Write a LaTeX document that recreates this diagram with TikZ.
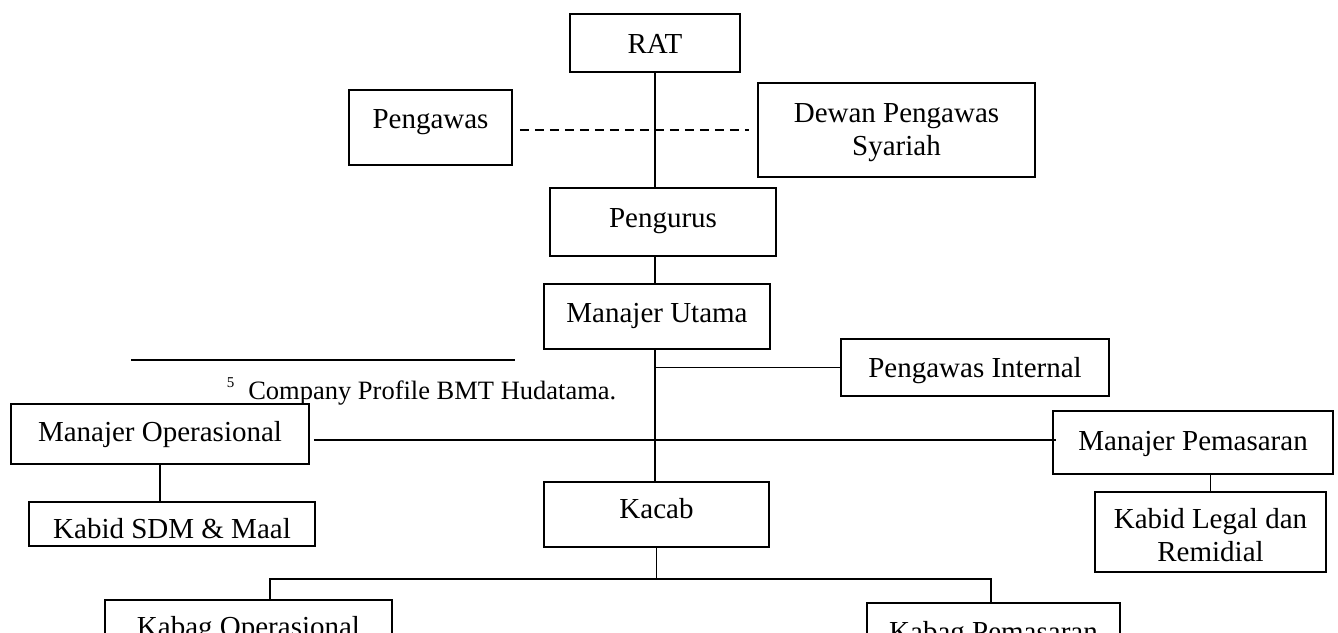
\documentclass[tikz,border=0pt]{standalone}
\usepackage{fontspec}
\setmainfont{Liberation Serif}
\usetikzlibrary{calc}

\begin{document}
\begin{tikzpicture}[x=1pt,y=-1pt,line width=1.6pt,
  box/.style={draw,line width=1.6pt,inner sep=0pt,align=center,font=\fontsize{29}{33}\selectfont}]
\useasboundingbox (0,0) rectangle (1338,632);
\clip (0,0) rectangle (1338,632);
\fill[white] (0,0) rectangle (1338,632);
% top of the chart
\node (rat) [box,minimum width=170pt,text height=39pt,text depth=19pt] at (655,43) {RAT};
\node (pengawas) [box,minimum width=163pt,text height=38pt,text depth=37pt] at (430.5,127.5) {Pengawas};
\node (dewan) [box,minimum width=277pt,minimum height=94pt,text height=58pt] at (896.5,130) {Dewan Pengawas\\Syariah};
\node (pengurus) [box,minimum width=226pt,text height=39pt,text depth=29pt] at (663,222) {Pengurus};
\node (mu) [box,minimum width=226pt,text height=38pt,text depth=27pt] at (657,316.5) {Manajer Utama};
\node (pint) [box,minimum width=268pt,text height=38pt,text depth=19pt] at (975,367.5) {Pengawas Internal};
% managers
\node (mo) [box,minimum width=298pt,text height=37pt,text depth=23pt] at (160,434) {Manajer Operasional};
\node (mp) [box,minimum width=280pt,text height=39pt,text depth=24pt] at (1193,442.5) {Manajer Pemasaran};
\node (sdm) [box,minimum width=286pt,text height=36pt,text depth=8pt] at (172,524) {Kabid SDM \& Maal};
\node (kl) [box,minimum width=231pt,minimum height=80pt,text height=59pt] at (1210.5,532) {Kabid Legal dan\\Remidial};
\node (kacab) [box,minimum width=225pt,text height=36pt,text depth=29pt] at (656.5,514.5) {Kacab};
\node (kabop) [box,minimum width=287pt,text height=36pt,text depth=23pt] at (248.5,629.5) {Kabag Operasional};
\node (kabpem) [box,minimum width=253pt,text height=38pt,text depth=21pt] at (993.5,632.5) {Kabag Pemasaran};
% footnote
\draw[line width=1.6pt] (131,360) -- (515,360);
\node (fn) [anchor=base west,inner sep=0pt,font=\fontsize{26.5}{30}\selectfont] at (226,399)
  {\raisebox{12pt}{\fontsize{15}{15}\selectfont 5}\hspace{14pt}Company Profile BMT Hudatama.};
% lines
\draw (rat.south) -- (rat.south |- pengurus.north);
\draw[dash pattern=on 9pt off 6pt] ([xshift=7pt]pengawas.east |- dewan.west) -- ([xshift=-8pt]dewan.west);
\draw (pengurus.south -| rat) -- (mu.north -| rat);
\draw (mu.south -| rat) -- (kacab.north -| rat);
\draw (pint.west) -- (pint.west -| rat);
\draw ([xshift=4pt,yshift=-6pt]mo.east) -- ([xshift=4pt,yshift=-6pt]mo.east -| mp.west);
\draw (mo.south) -- (mo.south |- sdm.north);
\draw (kl.north) -- (kl.north |- mp.south);
\draw (kacab.south) -- ++(0,31) coordinate (split);
\draw ([xshift=21.5pt]kabop.north) |- (split) -| ([xshift=-2.5pt]kabpem.north);
\end{tikzpicture}
\end{document}
